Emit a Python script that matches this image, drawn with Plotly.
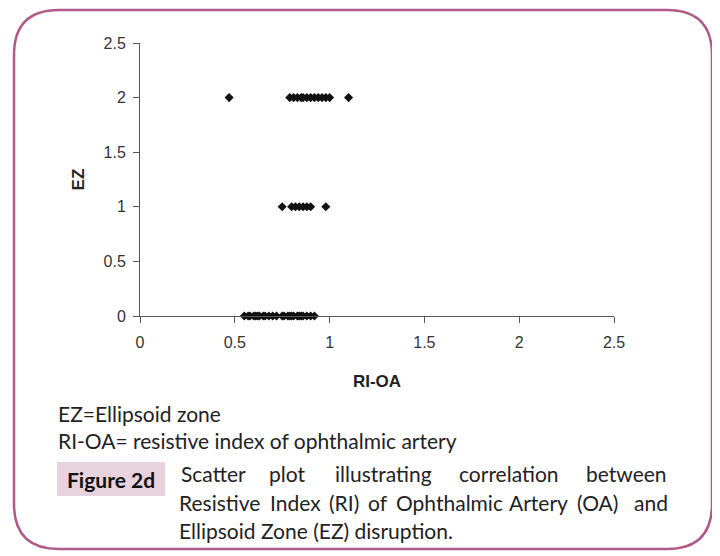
import plotly.graph_objects as go

# RI-OA values for each EZ grade
RI_EZ0 = [0.55, 0.57, 0.58, 0.60, 0.61, 0.62, 0.63, 0.65, 0.66, 0.68, 0.70, 0.72,
          0.75, 0.76, 0.78, 0.79, 0.80, 0.81, 0.83, 0.84, 0.85, 0.86, 0.88, 0.90, 0.92]
RI_EZ1 = [0.75, 0.80, 0.82, 0.84, 0.86, 0.88, 0.90, 0.98]
RI_EZ2 = [0.47, 0.79, 0.81, 0.83, 0.85, 0.86, 0.88, 0.90, 0.92, 0.94, 0.96, 0.98, 1.00, 1.10]
EZ_GRADES = [0, 1, 2]
TICKS = [0, 0.5, 1, 1.5, 2, 2.5]

PAGE_W, PAGE_H = 720, 556
OFF = 8                      # browser body margin
W, H = PAGE_W - OFF, PAGE_H - OFF
L, R, T, B = 140, 614, 43, 316   # plot area, page pixels


def px(x, y):
    # page pixel -> paper coordinates
    return (x - L) / (R - L), (B - y) / (B - T)


def rounded_rect(x0, y0, x1, y1, r):
    pts = [
        ("M", x0 + r, y0), ("L", x1 - r, y0), ("Q", x1, y0, x1, y0 + r),
        ("L", x1, y1 - r), ("Q", x1, y1, x1 - r, y1), ("L", x0 + r, y1),
        ("Q", x0, y1, x0, y1 - r), ("L", x0, y0 + r), ("Q", x0, y0, x0 + r, y0),
    ]
    out = []
    for p in pts:
        cmd, vals = p[0], p[1:]
        coords = []
        for i in range(0, len(vals), 2):
            a, b = px(vals[i], vals[i + 1])
            coords.append(f"{a:.5f},{b:.5f}")
        out.append(cmd + " ".join(coords))
    return " ".join(out) + " Z"


xs, ys = [], []
for grade, vals in zip(EZ_GRADES, [RI_EZ0, RI_EZ1, RI_EZ2]):
    xs += vals
    ys += [grade] * len(vals)

fig = go.Figure(
    go.Scatter(
        x=xs, y=ys, mode="markers",
        marker=dict(symbol="diamond", size=7, color="#111111"),
        cliponaxis=False,
    )
)

axis_font = "Liberation Sans, Arial"
axis_common = dict(
    showgrid=False, zeroline=False, showline=True, linecolor="#555555", linewidth=1,
    ticks="outside", ticklen=6, tickcolor="#555555",
    tickfont=dict(family=axis_font, size=16, color="#333333"),
    tickvals=TICKS, ticktext=[f"{t:g}" for t in TICKS],
)
fig.update_xaxes(range=[0, 2.5], ticklabelstandoff=6,
                 title=dict(text="<b>RI-OA</b>", standoff=24,
                            font=dict(family=axis_font, size=17, color="#222")), **axis_common)
fig.update_yaxes(range=[0, 2.5], ticklabelstandoff=4,
                 title=dict(text="<b>EZ</b>", standoff=14,
                            font=dict(family=axis_font, size=17, color="#222")), **axis_common)

fig.add_shape(type="path", xref="paper", yref="paper", layer="below",
              path=rounded_rect(14, 10, 712, 549, 45),
              line=dict(color="#b05a8c", width=2.5))

cap_font = dict(family="Lato, Open Sans", size=21, color="#222222")


def note(text, x, y, anchor="left", font=cap_font):
    ax, ay = px(x, y)
    fig.add_annotation(x=ax, y=ay, xref="paper", yref="paper", text=text, showarrow=False,
                       xanchor=anchor, yanchor="middle", font=font)


note("EZ=Ellipsoid zone", 56, 413)
note("RI-OA= resistive index of ophthalmic artery", 56, 440)

# "Figure 2d" label box
bx0, by0 = px(57, 462)
bx1, by1 = px(165, 496)
fig.add_shape(type="rect", xref="paper", yref="paper", x0=bx0, y0=by0, x1=bx1, y1=by1,
              fillcolor="#e8d2de", line=dict(width=0), layer="below")
note("<b>Figure 2d</b>", 111, 479, "center",
     dict(family="Lato, Open Sans", size=21, color="#111111"))

# justified caption lines, word by word
for word, x in [("Scatter", 213), ("plot", 287), ("illustrating", 383),
                ("correlation", 509), ("between", 626)]:
    note(word, x, 473, "center")
for word, x in [("Resistive", 177), ("Index", 268), ("(RI)", 327), ("of", 366),
                ("Ophthalmic", 394), ("Artery", 507), ("(OA)", 575)]:
    note(word, x, 502)
note("and", 670, 502, "right")
note("Ellipsoid Zone (EZ) disruption.", 177, 530)

fig.update_layout(
    width=W, height=H,
    margin=dict(l=L - OFF, r=PAGE_W - R, t=T - OFF, b=PAGE_H - B),
    plot_bgcolor="white", paper_bgcolor="white",
    showlegend=False,
)
fig.write_html("out.html")
